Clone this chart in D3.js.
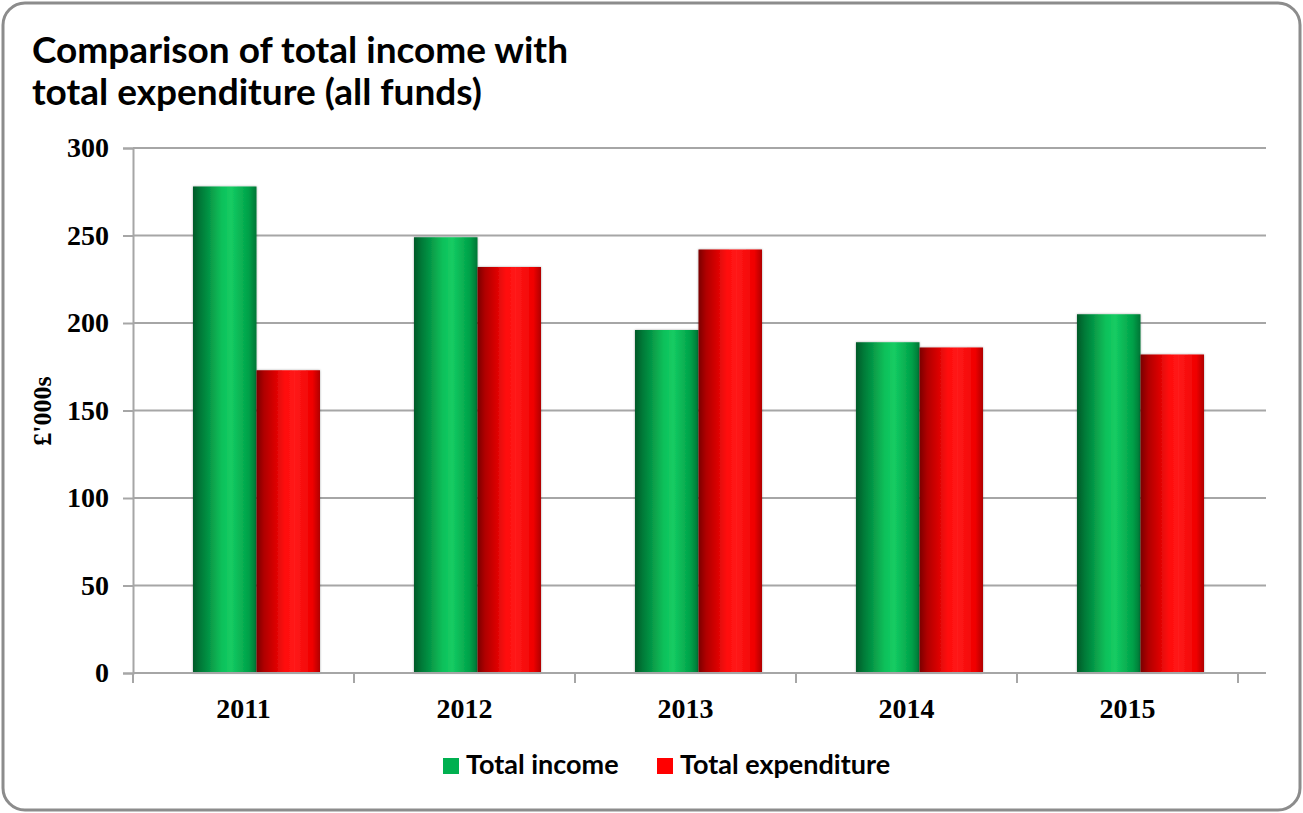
<!DOCTYPE html>
<html><head><meta charset="utf-8">
<script src="https://cdn.jsdelivr.net/npm/d3@7"></script>
<style>
html,body{margin:0;padding:0;background:#fff;}
svg{display:block;}
</style></head>
<body>
<svg id="chart" width="1303" height="813"></svg>
<script>
const titleLines = ["Comparison of total income with", "total expenditure (all funds)"];
const years = ["2011", "2012", "2013", "2014", "2015"];
const seriesNames = ["Total income", "Total expenditure"];
const income = [278, 249, 196, 189, 205];
const expenditure = [173, 232, 242, 186, 182];
const yTicks = [0, 50, 100, 150, 200, 250, 300];
const yLabel = "£'000s";
const colors = ["#00b050", "#ff0000"];

const svg = d3.select("#chart");
const W = 1303, H = 813;
const sans = "Lato, 'Open Sans', sans-serif";
const serif = "'Liberation Serif', 'DejaVu Serif', serif";

// frame
svg.append("rect").attr("x", 3).attr("y", 3).attr("width", W - 6).attr("height", H - 6)
  .attr("rx", 22).attr("ry", 22).attr("fill", "#fff").attr("stroke", "#8c8c8c").attr("stroke-width", 3);

// title
const title = svg.append("text").attr("font-family", sans).attr("font-weight", 700)
  .attr("font-size", 37).attr("fill", "#000");
titleLines.forEach((t, i) => title.append("tspan").attr("x", 32).attr("y", 63 + i * 42).text(t));

// gradients
const defs = svg.append("defs");
const gradStops = [
  [["0%", "#005a28"], ["12%", "#007a38"], ["45%", "#0ec05a"], ["60%", "#14cc63"], ["88%", "#00a048"], ["100%", "#007535"]],
  [["0%", "#7a0000"], ["12%", "#b00000"], ["45%", "#ff0a0a"], ["60%", "#ff1a1a"], ["88%", "#f00000"], ["100%", "#b00000"]]
];
gradStops.forEach((st, i) => {
  const g = defs.append("linearGradient").attr("id", "g" + i).attr("x1", "0%").attr("x2", "100%").attr("y1", "0%").attr("y2", "0%");
  st.forEach(s => g.append("stop").attr("offset", s[0]).attr("stop-color", s[1]));
});
const f = defs.append("filter").attr("id", "sh").attr("x", "-10%").attr("y", "-5%").attr("width", "120%").attr("height", "110%");
f.append("feDropShadow").attr("dx", 0).attr("dy", 0).attr("stdDeviation", 1.2).attr("flood-color", "#000").attr("flood-opacity", 0.35);

// scales
const plotL = 133, plotR = 1238, gridR = 1266, y0 = 673, y1 = 148;
const x = d3.scaleBand().domain(years).range([plotL, plotR]).paddingInner(0).paddingOuter(0);
const y = d3.scaleLinear().domain([0, 300]).range([y0, y1]);
const xs = d3.scaleBand().domain(seriesNames).range([60, 187]).padding(0);

// gridlines
svg.append("g").selectAll("line").data(yTicks.filter(d => d > 0)).join("line")
  .attr("x1", plotL).attr("x2", gridR).attr("y1", d => y(d)).attr("y2", d => y(d))
  .attr("stroke", "#a6a6a6").attr("stroke-width", 2);

// y axis
const yAxis = svg.append("g").attr("transform", `translate(${plotL},0)`)
  .call(d3.axisLeft(y).tickValues(yTicks).tickSize(10).tickPadding(14));
yAxis.select(".domain").attr("stroke", "#a6a6a6").attr("stroke-width", 2);
yAxis.selectAll(".tick line").attr("stroke", "#a6a6a6").attr("stroke-width", 2);
yAxis.selectAll(".tick text").attr("font-family", serif).attr("font-weight", 700)
  .attr("font-size", 28).attr("fill", "#000");

// bars
const data = years.map((yr, i) => ({ yr, vals: [income[i], expenditure[i]] }));
const groups = svg.append("g").selectAll("g").data(data).join("g")
  .attr("transform", d => `translate(${x(d.yr)},0)`);
groups.selectAll("rect").data(d => d.vals.map((v, j) => ({ v, j }))).join("rect")
  .attr("x", d => xs(seriesNames[d.j]))
  .attr("width", xs.bandwidth())
  .attr("y", d => y(d.v))
  .attr("height", d => y0 - y(d.v))
  .attr("fill", d => `url(#g${d.j})`)
  .attr("filter", "url(#sh)");

// x axis
const xAxis = svg.append("g").attr("transform", `translate(0,${y0})`)
  .call(d3.axisBottom(x).tickSize(0).tickPadding(25));
xAxis.select(".domain").remove();
svg.append("line").attr("x1", plotL).attr("x2", gridR).attr("y1", y0).attr("y2", y0)
  .attr("stroke", "#a6a6a6").attr("stroke-width", 2);
svg.append("g").selectAll("line").data(d3.range(years.length + 1)).join("line")
  .attr("x1", i => plotL + i * x.bandwidth()).attr("x2", i => plotL + i * x.bandwidth())
  .attr("y1", y0).attr("y2", y0 + 10).attr("stroke", "#a6a6a6").attr("stroke-width", 2);
xAxis.selectAll(".tick text").attr("font-family", serif).attr("font-weight", 700)
  .attr("font-size", 28).attr("fill", "#000");

// y label
svg.append("text").attr("transform", "translate(51,411) rotate(-90)")
  .attr("text-anchor", "middle").attr("font-family", serif).attr("font-weight", 700)
  .attr("font-size", 26).attr("fill", "#000").text(yLabel);

// legend
const legX = [443, 657];
const leg = svg.append("g").selectAll("g").data(seriesNames).join("g")
  .attr("transform", (d, i) => `translate(${legX[i]},758)`);
leg.append("rect").attr("width", 16).attr("height", 16).attr("fill", (d, i) => colors[i]);
leg.append("text").attr("x", 23).attr("y", 16).attr("font-family", sans).attr("font-weight", 700)
  .attr("font-size", 27).attr("fill", "#000").text(d => d);
</script>
</body></html>
